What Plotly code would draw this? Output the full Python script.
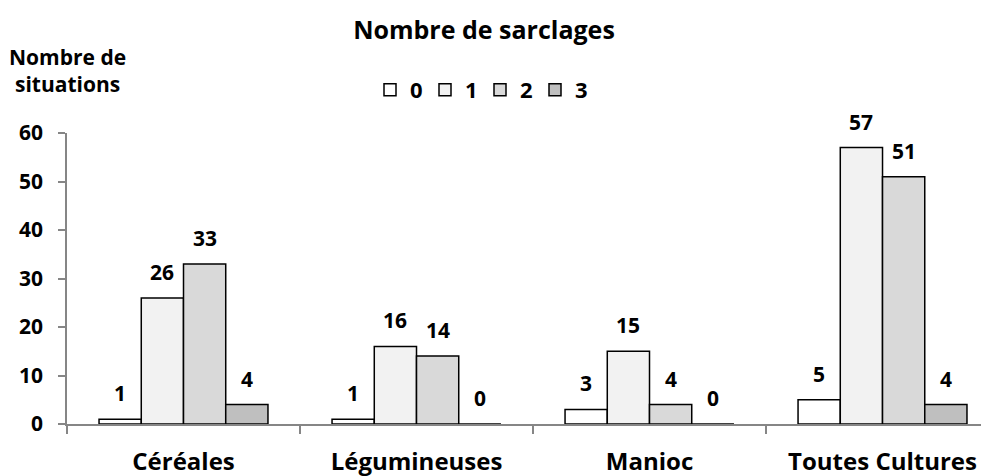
import plotly.graph_objects as go

categories = ["Céréales", "Légumineuses", "Manioc", "Toutes Cultures"]
series_names = ["0", "1", "2", "3"]
values_0 = [1, 1, 3, 5]
values_1 = [26, 16, 15, 57]
values_2 = [33, 14, 4, 51]
values_3 = [4, 0, 0, 4]
y_ticks = [0, 10, 20, 30, 40, 50, 60]
colors = ["#ffffff", "#f2f2f2", "#d9d9d9", "#bfbfbf"]
all_values = [values_0, values_1, values_2, values_3]

FONT = "Open Sans"
OFF = 8  # page body margin
W, H = 989 - OFF, 476 - OFF
L, R, T, B = 67 - OFF, 0, 133 - OFF, 52
PW, PH = W - L - R, H - T - B
X_MAX = 3.457
BARGAP = 0.275
cat_px = PW / (X_MAX + 0.5)
bar_px = cat_px * (1 - BARGAP) / 4

fig = go.Figure()
for name, vals, col in zip(series_names, all_values, colors):
    fig.add_trace(go.Bar(
        x=categories, y=vals, name="<b>%s</b>" % name,
        marker=dict(color=col, line=dict(color="#000000", width=1.5)),
        cliponaxis=False,
    ))

# data labels above bars
for i, vals in enumerate(all_values):
    for c, v in zip(categories, vals):
        fig.add_annotation(x=c, y=v, text="<b>%d</b>" % v, showarrow=False,
                           xshift=(i - 1.5) * bar_px, yshift=26,
                           xanchor="center", yanchor="middle",
                           font=dict(family=FONT, size=21, color="#000000"))

fig.update_layout(
    width=W, height=H,
    margin=dict(l=L, r=R, t=T, b=B, autoexpand=False),
    paper_bgcolor="white", plot_bgcolor="white",
    barmode="group", bargap=BARGAP, bargroupgap=0,
    font=dict(family=FONT, color="#000000"),
    showlegend=True,
    legend=dict(orientation="h", x=(480 - OFF) / W, xref="container", xanchor="center",
                y=1 - (90 - OFF) / H, yref="container", yanchor="middle",
                font=dict(family=FONT, size=22, color="#000000"),
                traceorder="normal", itemwidth=30, entrywidth=10),
    title=dict(text="<b>Nombre de sarclages</b>", x=(484 - OFF) / W, xanchor="center",
               y=1 - (30 - OFF) / H, yanchor="middle",
               font=dict(family=FONT, size=25, color="#000000")),
)

fig.update_xaxes(
    range=[-0.5, X_MAX], showline=True, linecolor="#868686", linewidth=1.5,
    ticks="outside", tickson="boundaries", ticklen=8, tickcolor="#868686", tickwidth=1.5,
    tickfont=dict(family=FONT, size=24, color="#000000"),
    showgrid=False, automargin=False, ticklabelstandoff=15,
    tickvals=categories, ticktext=["<b>%s</b>" % c for c in categories],
)
fig.update_yaxes(
    range=[0, 60], tickvals=y_ticks,
    ticktext=["<b>%d</b>" % v for v in y_ticks],
    showline=True, linecolor="#868686", linewidth=1.5,
    ticks="outside", ticklen=7, tickcolor="#868686", tickwidth=1.5,
    tickfont=dict(family=FONT, size=21, color="#000000"),
    showgrid=False, zeroline=False, automargin=False, ticklabelstandoff=11,
)

fig.add_annotation(text="<b>Nombre de<br>situations</b>", xref="paper", yref="paper",
                   x=(67 - 67) / PW, y=(H - B - (70 - OFF)) / PH, xanchor="center", yanchor="middle",
                   showarrow=False, align="center",
                   font=dict(family=FONT, size=21, color="#000000"))

fig.write_html("out.html")
